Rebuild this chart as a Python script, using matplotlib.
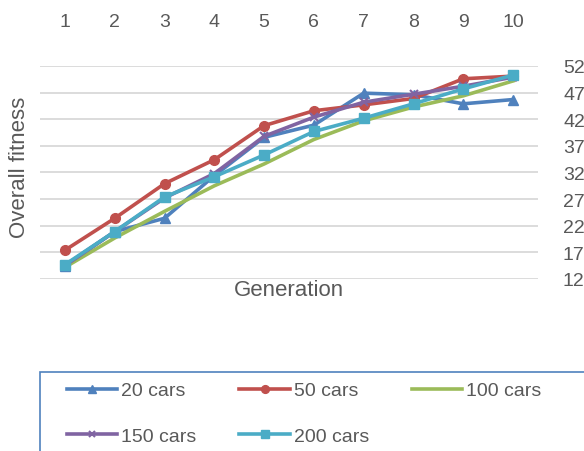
import matplotlib.pyplot as plt
from matplotlib.patches import Rectangle

generations = [1, 2, 3, 4, 5, 6, 7, 8, 9, 10]
cars_20 = [14.5, 20.9, 23.4, 31.4, 38.6, 40.9, 46.9, 46.6, 44.9, 45.7]
cars_50 = [17.4, 23.4, 29.9, 34.4, 40.8, 43.6, 44.7, 45.9, 49.6, 50.1]
cars_100 = [14.2, 19.7, 24.7, 29.5, 33.6, 38.2, 41.7, 44.3, 46.4, 49.2]
cars_150 = [14.5, 20.9, 27.2, 31.8, 38.8, 42.4, 45.2, 46.7, 48.2, 49.9]
cars_200 = [14.7, 20.9, 27.4, 31.2, 35.3, 39.7, 42.2, 44.9, 47.7, 50.3]
y_ticks = [12, 17, 22, 27, 32, 37, 42, 47, 52]

series = [
    ("20 cars", cars_20, "#4F81BD", "^", 7),
    ("50 cars", cars_50, "#C0504D", "o", 7),
    ("100 cars", cars_100, "#9BBB59", "", 0),
    ("150 cars", cars_150, "#8064A2", "x", 6),
    ("200 cars", cars_200, "#4BACC6", "s", 7),
]

plt.rcParams['font.family'] = ['Liberation Sans', 'DejaVu Sans']
text_color = "#595959"

fig = plt.figure(figsize=(5.84, 4.52), dpi=100)
ax = fig.add_axes([40 / 584, 1 - 280 / 452, 498 / 584, 213 / 452])

for label, values, color, marker, ms in series:
    ax.plot(generations, values, color=color, lw=2.6, marker=marker or None,
            markersize=ms, markeredgewidth=1.5 if marker == "x" else 1,
            label=label, solid_joinstyle="round")

ax.set_xlim(0.5, 10.5)
ax.set_ylim(12, 52)
ax.set_yticks(y_ticks)
ax.set_xticks(generations)
ax.xaxis.tick_top()
ax.yaxis.tick_right()
ax.tick_params(axis="x", length=0, pad=26, labelsize=14, colors=text_color)
ax.tick_params(axis="y", length=0, pad=18, labelsize=14, colors=text_color)
ax.grid(axis="y", color="#D9D9D9", lw=1.3)
ax.set_axisbelow(True)
for s in ax.spines.values():
    s.set_visible(False)

fig.text(20 / 584, 1 - 167 / 452, "Overall fitness", rotation=90,
         ha="center", va="center", fontsize=16, color=text_color)
fig.text(289 / 584, 1 - 290 / 452, "Generation", ha="center", va="center",
         fontsize=16, color=text_color)

# legend frame runs off the right and bottom edges, so draw it by hand
fig.patches.append(Rectangle((40 / 584, -0.1), 0.95, 1 - 373 / 452 + 0.1,
                             transform=fig.transFigure, fill=False,
                             edgecolor="#4F81BD", lw=1.2))

# legend is filled column by column, so reorder to read row by row
handles, labels = ax.get_legend_handles_labels()
order = [0, 3, 1, 4, 2]
leg = fig.legend([handles[i] for i in order], [labels[i] for i in order],
                 loc="upper left", ncol=3,
                 bbox_to_anchor=(58 / 584, 1 - 374 / 452),
                 fontsize=14, frameon=False,
                 handlelength=2.6, handletextpad=0.2, borderpad=0.45,
                 labelspacing=1.45, columnspacing=2.2, borderaxespad=0,
                 markerscale=0.8)
for t in leg.get_texts():
    t.set_color(text_color)

fig.savefig("out.png", dpi=100)
